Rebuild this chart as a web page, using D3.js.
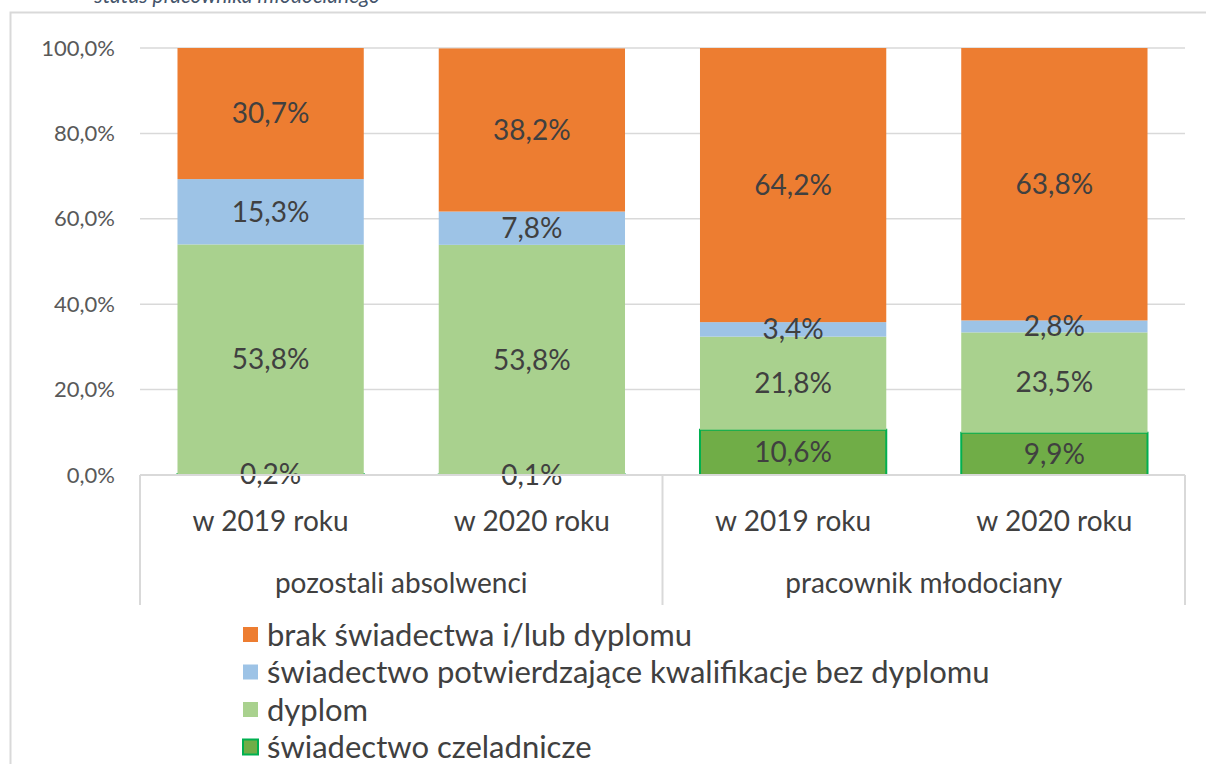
<!DOCTYPE html>
<html>
<head>
<meta charset="utf-8">
<script src="https://cdn.jsdelivr.net/npm/d3@7"></script>
<style>
  body { margin: 0; background: #fff; }
  svg { display: block; }
  text { font-family: Lato, "Open Sans", sans-serif; }
</style>
</head>
<body>
<div id="chart"></div>
<script>
// data
const groups = ["pozostali absolwenci", "pracownik młodociany"];
const years = ["w 2019 roku", "w 2020 roku"];
const series = ["świadectwo czeladnicze", "dyplom", "świadectwo potwierdzające kwalifikacje bez dyplomu", "brak świadectwa i/lub dyplomu"];
const czeladnicze = [0.2, 0.1, 10.6, 9.9];
const dyplom = [53.8, 53.8, 21.8, 23.5];
const swiadectwo = [15.3, 7.8, 3.4, 2.8];
const brak = [30.7, 38.2, 64.2, 63.8];
const yTicks = [0, 20, 40, 60, 80, 100];
const legendOrder = [3, 2, 1, 0];

const colors = ["#70AD47", "#A9D18E", "#9DC3E6", "#ED7D31"];
const values = [czeladnicze, dyplom, swiadectwo, brak];

const rows = [];
groups.forEach((g, gi) => years.forEach((yr, yi) => {
  const i = gi * 2 + yi;
  const r = { key: g + "|" + yr, group: g, year: yr };
  series.forEach((s, si) => { r[s] = values[si][i]; });
  rows.push(r);
}));

const W = 1206, H = 764;
const svg = d3.select("#chart").append("svg").attr("width", W).attr("height", H);

// outer frame + caption above it (cut off by the top edge, as in the source)
svg.append("text")
  .attr("x", 380).attr("y", 3)
  .attr("text-anchor", "end")
  .style("font-style", "italic")
  .style("font-size", "21px")
  .style("fill", "#44546A")
  .text("status pracownika młodocianego");
svg.append("rect")
  .attr("x", 10.5).attr("y", 12.5).attr("width", 1400).attr("height", 900)
  .attr("fill", "none").attr("stroke", "#D9D9D9").attr("stroke-width", 2);

const plotLeft = 140, plotRight = 1185, plotTop = 48, plotBottom = 475;

const x = d3.scaleBand().domain(rows.map(d => d.key)).range([plotLeft, plotRight])
  .paddingInner(0.287).paddingOuter(0.1435);
const y = d3.scaleLinear().domain([0, 100]).range([plotBottom, plotTop]);

// gridlines
svg.append("g").selectAll("line").data(yTicks.filter(t => t > 0)).join("line")
  .attr("x1", plotLeft).attr("x2", plotRight)
  .attr("y1", d => y(d)).attr("y2", d => y(d))
  .attr("stroke", "#D9D9D9").attr("stroke-width", 1.5);

// y axis labels
const yAxis = svg.append("g").attr("transform", `translate(${plotLeft},0)`)
  .call(d3.axisLeft(y).tickValues(yTicks).tickSize(0).tickPadding(25)
    .tickFormat(d => d3.format(".1f")(d).replace(".", ",") + "%"));
yAxis.select(".domain").remove();
yAxis.selectAll("text").style("font-size", "22px").style("fill", "#595959");

// stacked bars
const stack = d3.stack().keys(series)(rows);
const layers = svg.append("g").selectAll("g").data(stack).join("g")
  .attr("fill", (d, i) => colors[i]);
layers.selectAll("rect").data(d => d).join("rect")
  .attr("x", d => x(d.data.key))
  .attr("width", x.bandwidth())
  .attr("y", d => y(d[1]))
  .attr("height", d => y(d[0]) - y(d[1]));
layers.filter((d, i) => i === 0).selectAll("rect")
  .attr("stroke", "#00B050").attr("stroke-width", 2);

// segment labels
stack.forEach(layer => {
  svg.append("g").selectAll("text").data(layer).join("text")
    .attr("x", d => x(d.data.key) + x.bandwidth() / 2)
    .attr("y", d => y((d[0] + d[1]) / 2))
    .attr("dy", "0.35em")
    .attr("text-anchor", "middle")
    .style("font-size", "28px")
    .style("fill", "#404040")
    .text(d => d3.format(".1f")(d[1] - d[0]).replace(".", ",") + "%");
});

// category axis: baseline and group dividers
svg.append("line").attr("x1", plotLeft).attr("x2", plotRight).attr("y1", plotBottom).attr("y2", plotBottom)
  .attr("stroke", "#D9D9D9").attr("stroke-width", 2);
const mid = (x(rows[1].key) + x.bandwidth() + x(rows[2].key)) / 2;
svg.append("g").selectAll("line").data([plotLeft, mid, plotRight]).join("line")
  .attr("x1", d => d).attr("x2", d => d).attr("y1", plotBottom).attr("y2", 605)
  .attr("stroke", "#D9D9D9").attr("stroke-width", 2);

svg.append("g").selectAll("text").data(rows).join("text")
  .attr("x", d => x(d.key) + x.bandwidth() / 2)
  .attr("y", 521).attr("dy", "0.35em")
  .attr("text-anchor", "middle")
  .style("font-size", "28px").style("fill", "#404040")
  .text(d => d.year);

svg.append("g").selectAll("text").data(groups).join("text")
  .attr("x", (d, i) => i === 0 ? (plotLeft + mid) / 2 : (mid + plotRight) / 2)
  .attr("y", 583).attr("dy", "0.35em")
  .attr("text-anchor", "middle")
  .style("font-size", "28px").style("fill", "#404040")
  .text(d => d);

// legend
const legend = svg.append("g").selectAll("g").data(legendOrder).join("g")
  .attr("transform", (d, i) => `translate(243,${635 + i * 37.5})`);
legend.append("rect")
  .attr("x", 0).attr("y", -8).attr("width", 15).attr("height", 15)
  .attr("fill", d => colors[d])
  .attr("stroke", d => d === 0 ? "#00B050" : "none").attr("stroke-width", 2);
legend.append("text")
  .attr("x", 24).attr("y", 0).attr("dy", "0.35em")
  .style("font-size", "31px").style("fill", "#404040")
  .text(d => series[d]);
</script>
</body>
</html>
